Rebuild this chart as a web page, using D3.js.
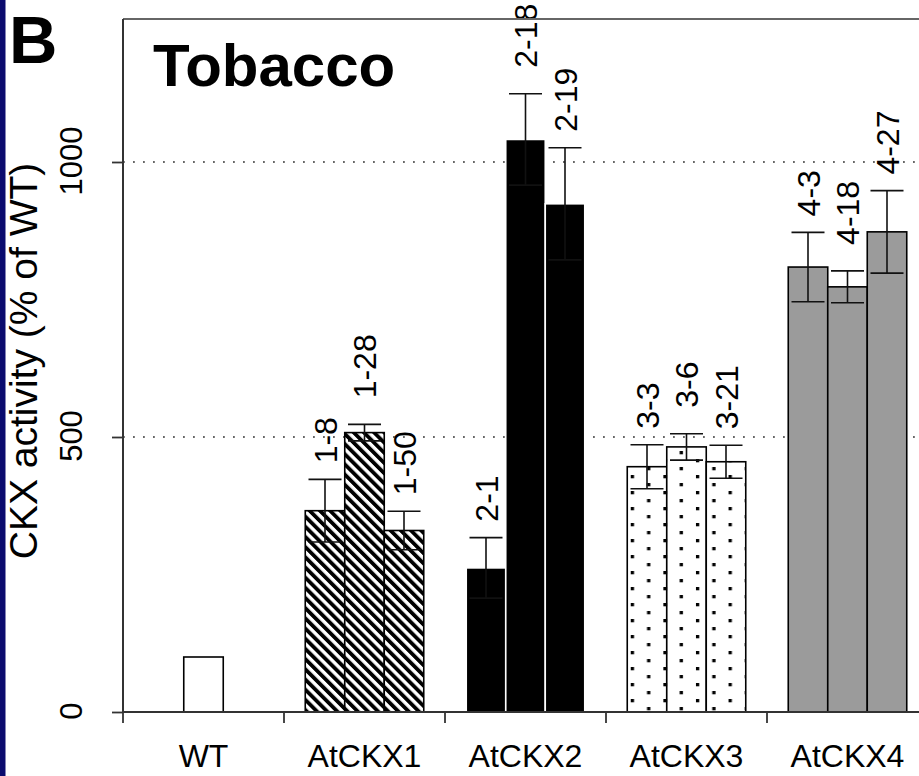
<!DOCTYPE html>
<html>
<head>
<meta charset="utf-8">
<script src="https://cdn.jsdelivr.net/npm/d3@7"></script>
<style>
  html, body { margin: 0; padding: 0; background: #fff; }
  svg { display: block; }
  text { font-family: "Liberation Sans", Arial, Helvetica, sans-serif; fill: #000; }
</style>
</head>
<body>
<svg id="chart" width="919" height="776"></svg>
<script>
// ---------- data ----------
const groups = ["WT", "AtCKX1", "AtCKX2", "AtCKX3", "AtCKX4"];
const lineLabels = [
  [""],
  ["1-8", "1-28", "1-50"],
  ["2-1", "2-18", "2-19"],
  ["3-3", "3-6", "3-21"],
  ["4-3", "4-18", "4-27"]
];
const means = [
  [100],
  [366, 508, 330],
  [262, 1041, 924],
  [446, 482, 455],
  [809, 773, 873]
];
const errors = [
  [null],
  [57, 15, 35],
  [55, 83, 102],
  [40, 24, 30],
  [63, 29, 75]
];
const yTicks = [0, 500, 1000];
const gridValues = [500, 1000];
const panelLetter = "B";
const title = "Tobacco";
const yTitle = "CKX activity (% of WT)";

// ---------- layout ----------
const W = 919, H = 776;
const plot = { left: 123, top: 19, bottom: 712, right: 919 };
const barW = 39.5;
const fills = ["#fff", "url(#stripes)", "#000", "url(#dots)", "#9b9b9b"];
const strokes = ["#000", "#000", "#fff", "#000", "#000"];

const svg = d3.select("#chart");

// navy side strip
svg.append("rect").attr("x", 0).attr("y", 0).attr("width", 5.5).attr("height", H).attr("fill", "#0b0b6e");

const x = d3.scaleBand().domain(groups).range([plot.left, plot.left + 161 * groups.length]).padding(0);
const y = d3.scaleLinear().domain([0, 1000]).range([plot.bottom, 162]);

// ---------- patterns ----------
const defs = svg.append("defs");
const sp = 7.2;
const stripes = defs.append("pattern").attr("id", "stripes")
  .attr("patternUnits", "userSpaceOnUse").attr("width", sp).attr("height", sp)
  .attr("patternTransform", "rotate(-45)");
stripes.append("rect").attr("width", sp).attr("height", sp).attr("fill", "#fff");
stripes.append("rect").attr("width", 3.8).attr("height", sp).attr("fill", "#000");

const dotStep = 16.3;
const dotsX0 = x("AtCKX3") + x.bandwidth() / 2 - 1.5 * barW + 3.5;
const dots = defs.append("pattern").attr("id", "dots")
  .attr("patternUnits", "userSpaceOnUse").attr("width", dotStep * 2).attr("height", 16)
  .attr("x", dotsX0).attr("y", 475);
dots.append("rect").attr("width", dotStep * 2).attr("height", 16).attr("fill", "#fff");
dots.append("rect").attr("x", 0).attr("y", 0).attr("width", 3.3).attr("height", 3.3).attr("fill", "#000");
dots.append("rect").attr("x", dotStep).attr("y", 8).attr("width", 3.3).attr("height", 3.3).attr("fill", "#000");

// ---------- grid ----------
svg.append("g").selectAll("line").data(gridValues).join("line")
  .attr("x1", plot.left).attr("x2", plot.right)
  .attr("y1", d => y(d)).attr("y2", d => y(d))
  .attr("stroke", "#666").attr("stroke-width", 1.8).attr("stroke-dasharray", "1.8,8.2");

// ---------- bars ----------
const barsG = svg.append("g");
const errG = svg.append("g");
const labG = svg.append("g");
const labelFs = 32;

groups.forEach((g, gi) => {
  const n = means[gi].length;
  const c = x(g) + x.bandwidth() / 2;
  const inner = d3.scaleBand().domain(d3.range(n)).range([c - n * barW / 2, c + n * barW / 2]).padding(0);
  const items = means[gi].map((m, i) => ({ m, e: errors[gi][i], lab: lineLabels[gi][i], i, n }));

  barsG.selectAll(null).data(items).join("rect")
    .attr("x", d => inner(d.i)).attr("width", inner.bandwidth())
    .attr("y", d => y(d.m)).attr("height", d => y(0) - y(d.m))
    .attr("fill", fills[gi]).attr("stroke", strokes[gi]).attr("stroke-width", 1.6);

  const withErr = items.filter(d => d.e != null);
  const ec = d => inner(d.i) + inner.bandwidth() / 2;
  errG.selectAll(null).data(withErr).join("line")
    .attr("x1", ec).attr("x2", ec)
    .attr("y1", d => y(d.m - d.e)).attr("y2", d => y(d.m + d.e))
    .attr("stroke", "#111").attr("stroke-width", 1.6);
  [1, -1].forEach(s => {
    errG.selectAll(null).data(withErr).join("line")
      .attr("x1", d => ec(d) - 16.5).attr("x2", d => ec(d) + 16.5)
      .attr("y1", d => y(d.m + s * d.e)).attr("y2", d => y(d.m + s * d.e))
      .attr("stroke", "#111").attr("stroke-width", 1.6);
  });

  labG.selectAll(null).data(withErr).join("text")
    .attr("transform", d => {
      const off = (d.n === 3 && d.i === 1) ? 26 : 16;
      return `translate(${ec(d) + 0.36 * labelFs},${y(d.m + d.e) - off}) rotate(-90)`;
    })
    .attr("text-anchor", "start")
    .style("font-size", labelFs + "px")
    .text(d => d.lab);
});

// ---------- axes / frame ----------
const axisCol = "#333";
svg.append("line").attr("x1", plot.left).attr("x2", plot.right).attr("y1", plot.top).attr("y2", plot.top)
  .attr("stroke", "#666").attr("stroke-width", 2.2);
svg.append("line").attr("x1", plot.left).attr("x2", plot.left).attr("y1", plot.top).attr("y2", plot.bottom)
  .attr("stroke", axisCol).attr("stroke-width", 2);
svg.append("line").attr("x1", plot.left).attr("x2", plot.right).attr("y1", plot.bottom).attr("y2", plot.bottom)
  .attr("stroke", axisCol).attr("stroke-width", 1.8);

const yAxis = svg.append("g").attr("transform", `translate(${plot.left},0)`)
  .call(d3.axisLeft(y).tickValues(yTicks).tickSize(11).tickFormat(""));
yAxis.select(".domain").remove();
yAxis.selectAll(".tick line").attr("stroke", axisCol).attr("stroke-width", 1.8);

svg.append("g").selectAll("text").data(yTicks).join("text")
  .attr("transform", d => `translate(82,${y(d) - 1}) rotate(-90)`)
  .attr("text-anchor", "middle")
  .style("font-size", "31px")
  .text(d => d);

svg.append("g").selectAll("line").data(groups).join("line")
  .attr("x1", d => x(d)).attr("x2", d => x(d))
  .attr("y1", plot.bottom).attr("y2", plot.bottom + 11)
  .attr("stroke", axisCol).attr("stroke-width", 1.8);

svg.append("g").selectAll("text").data(groups).join("text")
  .attr("x", d => x(d) + x.bandwidth() / 2).attr("y", 767)
  .attr("text-anchor", "middle")
  .style("font-size", "32px")
  .text(d => d);

svg.append("text").attr("transform", "translate(37,361) rotate(-90)")
  .attr("text-anchor", "middle").style("font-size", "39px").text(yTitle);
svg.append("text").attr("x", 153).attr("y", 86).style("font-size", "60px").style("font-weight", "bold").text(title);
svg.append("text").attr("x", 9).attr("y", 63).style("font-size", "67px").style("font-weight", "bold").text(panelLetter);
</script>
</body>
</html>
